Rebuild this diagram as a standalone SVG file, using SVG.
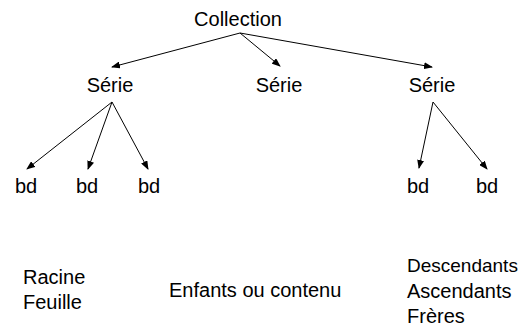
<svg xmlns="http://www.w3.org/2000/svg" width="522" height="328" viewBox="0 0 522 328">
<style>
text{font-family:"Liberation Sans",Arial,sans-serif;font-size:20px;fill:#000}
.n{text-anchor:middle}
.c{stroke:#000;stroke-width:1;fill:none;marker-end:url(#a)}
</style>
<defs>
<marker id="a" markerUnits="userSpaceOnUse" markerWidth="9" markerHeight="7" refX="8" refY="3.5" orient="auto">
<path d="M0,0 L9,3.5 L0,7 z" fill="#000"/>
</marker>
</defs>
<rect width="522" height="328" fill="#fff"/>
<g id="connectors">
<line class="c" x1="240" y1="33" x2="112" y2="67"/>
<line class="c" x1="240" y1="33" x2="280" y2="66"/>
<line class="c" x1="240" y1="33" x2="432" y2="67"/>
<line class="c" x1="112" y1="102" x2="27" y2="169"/>
<line class="c" x1="112" y1="102" x2="88" y2="169"/>
<line class="c" x1="112" y1="102" x2="148" y2="169"/>
<line class="c" x1="433" y1="102" x2="419" y2="168"/>
<line class="c" x1="433" y1="102" x2="487" y2="169"/>
</g>
<g id="collection"><text class="n" x="238" y="26">Collection</text></g>
<g id="serie1"><text class="n" x="110" y="92">Série</text></g>
<g id="serie2"><text class="n" x="279" y="92">Série</text></g>
<g id="serie3"><text class="n" x="432" y="92">Série</text></g>
<g id="bd1"><text class="n" x="26" y="193">bd</text></g>
<g id="bd2"><text class="n" x="87" y="193">bd</text></g>
<g id="bd3"><text class="n" x="149" y="193">bd</text></g>
<g id="bd4"><text class="n" x="418" y="193">bd</text></g>
<g id="bd5"><text class="n" x="487" y="193">bd</text></g>
<g id="legend-left"><text x="23" y="284">Racine</text><text x="23" y="309">Feuille</text></g>
<g id="legend-middle"><text x="169" y="297">Enfants ou contenu</text></g>
<g id="legend-right"><text x="407" y="272" style="font-size:19px">Descendants</text><text x="407" y="298">Ascendants</text><text x="407" y="323">Frères</text></g>
</svg>
